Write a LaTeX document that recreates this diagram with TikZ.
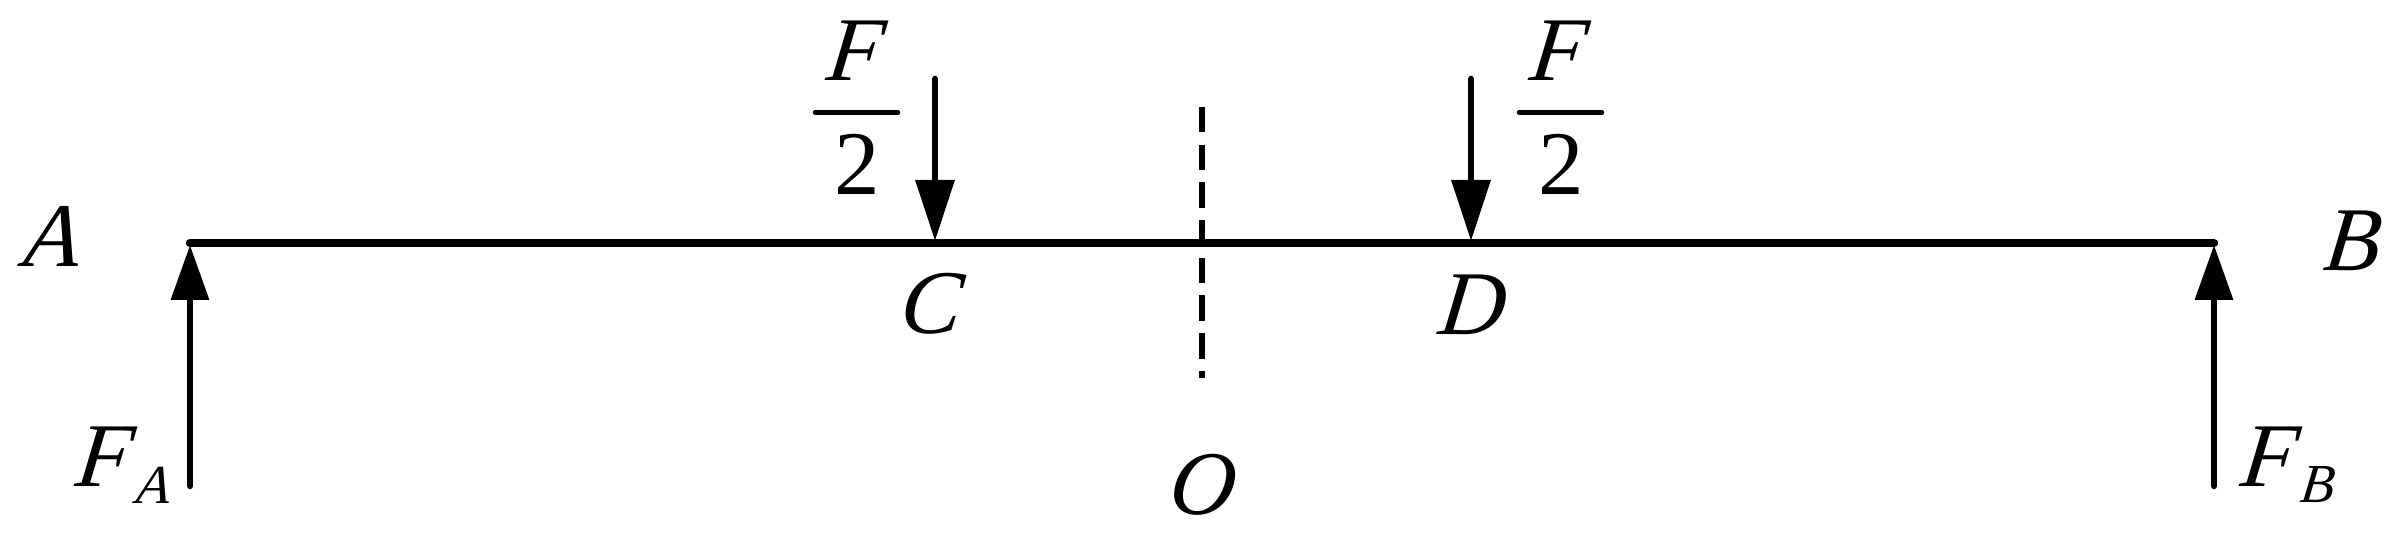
\documentclass[tikz,border=0pt]{standalone}
\usepackage{fontspec}
\setmainfont{Liberation Serif}
\newfontfamily\slantit{Liberation Serif Italic}[FakeSlant=0.12]
\usetikzlibrary{arrows.meta}
\tikzset{
  lab/.style={inner sep=0pt,outer sep=0pt,anchor=base,font=\fontsize{91}{91}\slantit},
  subl/.style={inner sep=0pt,outer sep=0pt,anchor=base,font=\fontsize{55}{55}\slantit},
  num/.style={inner sep=0pt,outer sep=0pt,anchor=base,font=\fontsize{91}{91}\selectfont},
  beam/.style={line width=8.5pt,line cap=round},
  forceup/.style={line width=6.5pt,line cap=round,-{Triangle[length=55pt,width=37pt]}},
  forcedown/.style={line width=6.5pt,line cap=round,-{Triangle[length=61pt,width=38pt]}},
  fracbar/.style={line width=4.5pt,line cap=round},
  axisline/.style={line width=6.5pt,dash pattern=on 25.5pt off 12.2pt}
}
\begin{document}
\begin{tikzpicture}[x=1pt,y=-1pt]
\useasboundingbox (0,0) rectangle (2402,534);
\coordinate (a) at (190,243);
\coordinate (b) at (2214,243);
\coordinate (c) at (935,241);
\coordinate (d) at (1471,241);
\coordinate (at) at (190,486);
\coordinate (bt) at (2214,486);
\coordinate (ct) at (935,79);
\coordinate (dt) at (1471,79);
\coordinate (at2) at (190,245);
\coordinate (bt2) at (2214,245);
\coordinate (o1) at (1202,107);
\coordinate (o2) at (1202,378);
\coordinate (f1l) at (815,112.5);
\coordinate (f1r) at (898,112.5);
\coordinate (f2l) at (1519,112.5);
\coordinate (f2r) at (1602,112.5);
\draw[beam] (a) -- (b);
\draw[forceup] (at) -- (at2);
\draw[forceup] (bt) -- (bt2);
\draw[forcedown] (ct) -- (c);
\draw[forcedown] (dt) -- (d);
\draw[axisline] (o1) -- (o2);
\draw[fracbar] (f1l) -- (f1r);
\draw[fracbar] (f2l) -- (f2r);
\node[lab] (la) at (50,267) {A};
\node[lab] (lb) at (2350,271) {B};
\node[lab] (lc) at (929,334) {C};
\node[lab] (ld) at (1470,335) {D};
\node[lab] (lo) at (1200,514) {O};
\node[lab] (f1) at (853,81) {F};
\node[num] (n1) at (857,195) {2};
\node[lab] (f2) at (1556,81) {F};
\node[num] (n2) at (1561,195) {2};
\node[lab] (fa) at (102,486) {F};
\node[subl] (sa) at (152,503) {A};
\node[lab] (fb) at (2267,486) {F};
\node[subl] (sb) at (2316,502) {B};
\end{tikzpicture}
\end{document}
